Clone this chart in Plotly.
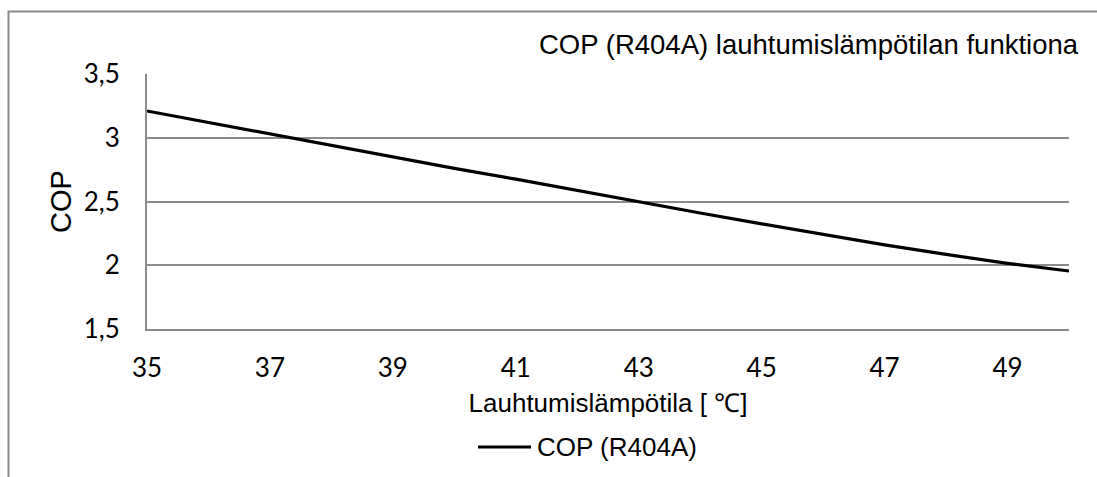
import plotly.graph_objects as go

# Condensing temperature [°C] and the corresponding COP for R404A
temps = [35, 36, 37, 38, 39, 40, 41, 42, 43, 44, 45, 46, 47, 48, 49, 50]
cop = [3.21, 3.12, 3.025, 2.935, 2.85, 2.76, 2.675, 2.585, 2.495, 2.41,
       2.325, 2.24, 2.16, 2.085, 2.015, 1.955]

series_name = "COP (R404A)"
chart_title = "COP (R404A) lauhtumislämpötilan funktiona"
x_title = "Lauhtumislämpötila [ ℃]"
y_title = "COP"
x_ticks = [35, 37, 39, 41, 43, 45, 47, 49]
y_ticks = [1.5, 2, 2.5, 3, 3.5]

W, H = 1097, 477
ML, MR, MT, MB = 147, 28, 74, 148
PW, PH = W - ML - MR, H - MT - MB


def px_x(p):
    return (p - ML) / PW


def px_y(p):
    return (H - MB - p) / PH


ARIAL = "Liberation Sans, Arial, sans-serif"
CALIBRI = "Lato, Open Sans, sans-serif"
GRID = "#8c8c8c"

fig = go.Figure()
fig.add_trace(go.Scatter(
    x=temps, y=cop, mode="lines", name=series_name,
    line=dict(color="black", width=3.2),
    showlegend=False,
))

fig.update_layout(
    width=W, height=H,
    margin=dict(l=ML, r=MR, t=MT, b=MB, pad=0),
    paper_bgcolor="white", plot_bgcolor="white",
    separators=", ",
    xaxis=dict(
        range=[35, 50], tickvals=x_ticks, showgrid=False, zeroline=False,
        showline=True, linecolor=GRID, linewidth=2,
        ticks="", ticklabelstandoff=15,
        tickfont=dict(family=CALIBRI, size=26, color="black"),
        title=dict(text=x_title, standoff=12,
                   font=dict(family=ARIAL, size=26, color="black")),
    ),
    yaxis=dict(
        range=[1.5, 3.5], tickvals=y_ticks, showgrid=True, gridcolor=GRID,
        gridwidth=2, zeroline=False, showline=True, linecolor=GRID,
        linewidth=2, ticks="", ticklabelstandoff=20,
        tickfont=dict(family=CALIBRI, size=26, color="black"),
        title=dict(text=y_title, standoff=4,
                   font=dict(family=ARIAL, size=29, color="black")),
    ),
)

# chart title, right-aligned above the plot area
fig.add_annotation(
    text=chart_title, xref="paper", yref="paper",
    x=px_x(1081), y=px_y(45), xanchor="right", yanchor="middle",
    showarrow=False, font=dict(family=ARIAL, size=27.5, color="black"),
)

# legend entry: line sample + label
fig.add_shape(
    type="line", xref="paper", yref="paper",
    x0=px_x(478), x1=px_x(531), y0=px_y(447), y1=px_y(447),
    line=dict(color="black", width=3.2),
)
fig.add_annotation(
    text=series_name, xref="paper", yref="paper",
    x=px_x(535), y=px_y(447), xanchor="left", yanchor="middle",
    showarrow=False, font=dict(family=ARIAL, size=26, color="black"),
)

# outer chart frame (left and top edges)
fig.add_shape(
    type="path", xref="paper", yref="paper",
    path=f"M {px_x(8.5)},{px_y(490)} L {px_x(8.5)},{px_y(11.5)} L {px_x(1110)},{px_y(11.5)}",
    line=dict(color="#8a8a8a", width=2),
)

fig.write_html("out.html")
